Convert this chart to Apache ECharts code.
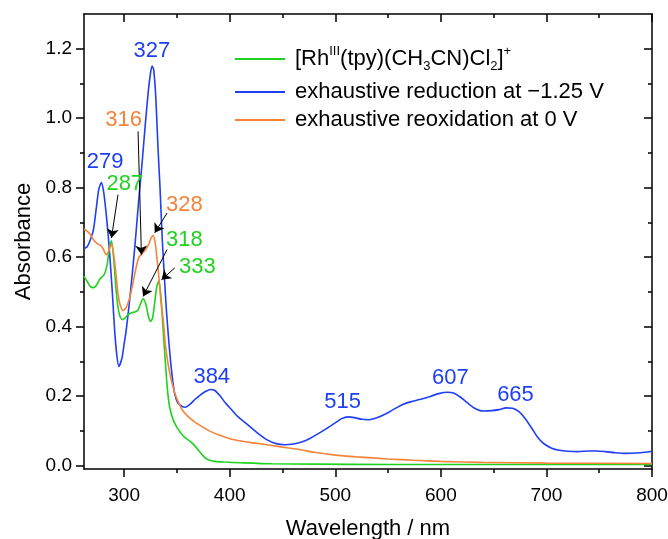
<!DOCTYPE html>
<html>
<head>
<meta charset="utf-8">
<script src="https://cdn.jsdelivr.net/npm/echarts@6/dist/echarts.min.js"></script>
<style>html,body{margin:0;padding:0;background:#fff}#c{width:668px;height:539px}</style>
</head>
<body>
<div id="c"></div>
<script>
// ---- data (wavelength nm, absorbance) ----
const greenData = [
[262,0.545],[265,0.53],[268,0.515],[271,0.512],[274,0.52],[277,0.537],[280,0.546],[282,0.556],[284,0.58],[286,0.625],[288,0.647],[290,0.60],[292,0.52],[294,0.46],[296,0.43],[298.5,0.42],[301,0.425],[304,0.435],[307,0.44],[310,0.442],[313,0.447],[315.5,0.465],[318,0.48],[320.5,0.465],[323,0.43],[325,0.415],[327,0.425],[329,0.47],[331,0.515],[333,0.532],[335,0.48],[337,0.39],[339,0.30],[341,0.22],[343,0.17],[346,0.135],[350,0.11],[356,0.085],[360,0.075],[364,0.066],[368,0.053],[372,0.038],[376,0.024],[380,0.016],[386,0.012],[395,0.010],[410,0.008],[440,0.005],[480,0.004],[550,0.003],[650,0.003],[800,0.003]
];
const blueData = [
[262,0.625],[265,0.63],[268,0.65],[271,0.68],[274,0.75],[276,0.795],[278.5,0.815],[280.5,0.79],[282.5,0.74],[285,0.66],[287,0.58],[289,0.49],[291,0.39],[293,0.32],[295,0.285],[298,0.31],[300,0.35],[302,0.39],[305,0.47],[308,0.56],[311,0.66],[314,0.77],[317,0.87],[320,0.98],[323,1.08],[325,1.13],[326.5,1.15],[328,1.14],[330,1.06],[332,0.92],[334,0.80],[336,0.66],[338,0.55],[340,0.45],[342,0.37],[344,0.30],[346,0.245],[348,0.205],[351,0.18],[355,0.17],[358,0.168],[362,0.175],[367,0.19],[372,0.203],[377,0.213],[382,0.219],[386,0.216],[391,0.20],[396,0.18],[402,0.16],[408,0.14],[414,0.125],[420,0.11],[428,0.09],[436,0.073],[444,0.063],[452,0.060],[460,0.062],[468,0.068],[476,0.078],[484,0.092],[492,0.107],[500,0.123],[506,0.135],[512,0.14],[518,0.138],[525,0.133],[532,0.132],[540,0.138],[548,0.149],[556,0.163],[564,0.176],[572,0.184],[580,0.19],[590,0.199],[598,0.207],[606,0.211],[612,0.209],[618,0.198],[625,0.181],[632,0.165],[640,0.157],[648,0.158],[655,0.161],[662,0.166],[668,0.165],[674,0.155],[680,0.135],[686,0.108],[692,0.080],[698,0.062],[705,0.050],[712,0.044],[720,0.041],[730,0.040],[740,0.042],[748,0.042],[756,0.040],[765,0.037],[775,0.035],[785,0.036],[793,0.038],[800,0.041]
];
const orangeData = [
[262,0.68],[265,0.675],[268,0.665],[271,0.65],[274,0.64],[277,0.635],[280,0.625],[283,0.607],[285,0.615],[288,0.638],[290,0.61],[292,0.56],[294,0.50],[296,0.465],[299,0.446],[302,0.455],[305,0.48],[308,0.52],[311,0.565],[314,0.60],[317,0.61],[320,0.62],[323,0.635],[325.5,0.655],[327.5,0.662],[329.5,0.64],[331,0.60],[333,0.54],[335,0.47],[337,0.42],[339,0.35],[341.5,0.295],[344,0.255],[348,0.209],[352,0.178],[356,0.156],[362,0.137],[368,0.123],[375,0.11],[381,0.099],[390,0.088],[403,0.075],[420,0.066],[435,0.06],[450,0.053],[466,0.046],[480,0.038],[500,0.03],[520,0.025],[550,0.019],[575,0.015],[600,0.012],[640,0.009],[700,0.007],[800,0.006]
];
const seriesNames = ['[Rh(III)(tpy)(CH3CN)Cl2]+','exhaustive reduction at \u22121.25 V','exhaustive reoxidation at 0 V'];
const xMajorTicks = [300,400,500,600,700,800];
const xMinorTicks = [350,450,550,650,750];
const yMajorTicks = [0,0.2,0.4,0.6,0.8,1.0,1.2];
const yMinorTicks = [0.1,0.3,0.5,0.7,0.9,1.1];
// peak labels: [x, y, text, colorKey]
const peakLabels = [
[326.2,1.195,'327','b'],[282,0.873,'279','b'],[300.6,0.81,'287','g'],[299.6,0.995,'316','o'],
[357,0.749,'328','o'],[357,0.65,'318','g'],[369.3,0.573,'333','g'],[383,0.254,'384','b'],
[507,0.182,'515','b'],[609,0.253,'607','b'],[670.7,0.204,'665','b']
];
// arrows: [x1,y1,x2,y2]
const arrows = [
[294.2,0.78,288,0.655],[313.2,0.962,316.4,0.607],[340.7,0.727,329,0.67],[340.7,0.622,318,0.487],[348,0.569,335.4,0.535]
];

const C = {g:'#1fd21f', b:'#1f3ff5', o:'#f5843a'};
const FONT = '"Liberation Sans", Arial, sans-serif';
const chart = echarts.init(document.getElementById('c'), null, {renderer:'canvas'});

function xAx(pos, ticks, len, inside, showLine, showLabel, extra){
  return Object.assign({type:'value', min:262, max:800, position:pos,
    axisLine:{show:showLine, onZero:false, lineStyle:{color:'#000', width:1.5}},
    axisTick:{show:true, inside:inside, length:len, customValues:ticks, lineStyle:{color:'#000', width:1.5}},
    axisLabel:{show:showLabel, customValues:ticks, fontSize:19, color:'#000', fontFamily:FONT, margin:17},
    splitLine:{show:false}}, extra||{});
}
function yAx(pos, ticks, len, inside, showLine, showLabel, extra){
  return Object.assign({type:'value', min:-0.01, max:1.3, position:pos,
    axisLine:{show:showLine, onZero:false, lineStyle:{color:'#000', width:1.5}},
    axisTick:{show:true, inside:inside, length:len, customValues:ticks, lineStyle:{color:'#000', width:1.5}},
    axisLabel:{show:showLabel, customValues:ticks, fontSize:19, color:'#000', fontFamily:FONT, margin:12,
      formatter:v=>v.toFixed(1)},
    splitLine:{show:false}}, extra||{});
}

const legendCommon = {left:235, orient:'horizontal', padding:0, itemWidth:50, itemHeight:2, icon:'rect',
  textStyle:{fontSize:22, color:'#000', fontFamily:FONT, padding:[0,0,0,5]}};

chart.setOption({
  animation:false,
  grid:{left:84, right:16, top:14, bottom:70, containLabel:false, outerBoundsMode:'none'},
  xAxis:[
    xAx('bottom', xMajorTicks, 8, false, true, true, {name:'Wavelength / nm', nameLocation:'middle', nameGap:49,
      nameTextStyle:{fontSize:22, color:'#000', fontFamily:FONT}}),
    xAx('bottom', xMinorTicks, 4, false, false, false),
    xAx('top', xMajorTicks, 8, true, true, false),
    xAx('top', xMinorTicks, 4, true, false, false)
  ],
  yAxis:[
    yAx('left', yMajorTicks, 8, false, true, true, {name:'Absorbance', nameLocation:'middle', nameGap:44, nameRotate:90,
      nameTextStyle:{fontSize:22, color:'#000', fontFamily:FONT}}),
    yAx('left', yMinorTicks, 4, false, false, false),
    yAx('right', yMajorTicks, 8, true, true, false),
    yAx('right', yMinorTicks, 4, true, false, false)
  ],
  legend:[
    Object.assign({}, legendCommon, {top:45, data:[seriesNames[0]],
      formatter:()=> '[Rh{sup|III}(tpy)(CH{sub|3}CN)Cl{sub|2}]{sup|+}',
      textStyle:Object.assign({}, legendCommon.textStyle, {lineHeight:28, rich:{
        sup:{fontSize:13, verticalAlign:'top', lineHeight:13, fontFamily:FONT, color:'#000'},
        sub:{fontSize:13, verticalAlign:'bottom', lineHeight:13, fontFamily:FONT, color:'#000'}}})}),
    Object.assign({}, legendCommon, {top:81, data:[seriesNames[1]]}),
    Object.assign({}, legendCommon, {top:109, data:[seriesNames[2]]})
  ],
  series:[
    {name:seriesNames[0], type:'line', data:greenData, symbol:'none', smooth:0.25, lineStyle:{color:C.g, width:1.6}, itemStyle:{color:C.g}, z:3},
    {name:seriesNames[1], type:'line', data:blueData, symbol:'none', smooth:0.25, lineStyle:{color:C.b, width:1.6}, itemStyle:{color:C.b}, z:2},
    {name:seriesNames[2], type:'line', data:orangeData, symbol:'none', smooth:0.25, lineStyle:{color:C.o, width:1.6}, itemStyle:{color:C.o}, z:4},
    {name:'labels', type:'scatter', symbolSize:0, silent:true, z:10, itemStyle:{opacity:1},
      data:peakLabels.map(p=>({value:[p[0],p[1]], label:{show:true, position:'inside', formatter:p[2], color:C[p[3]], fontSize:22, fontFamily:FONT, opacity:1}})),
      markLine:{silent:true, symbol:['none','arrow'], symbolSize:9, label:{show:false},
        lineStyle:{color:'#000', width:1, type:'solid', opacity:1},
        data:arrows.map(a=>[{coord:[a[0],a[1]]},{coord:[a[2],a[3]]}])}
    }
  ]
});
</script>
</body>
</html>
